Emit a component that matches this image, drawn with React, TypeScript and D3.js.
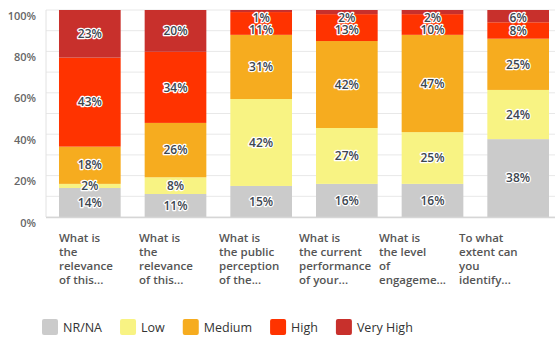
import { useEffect, useRef } from "react";
import * as d3 from "d3";

const categories = ["q1", "q2", "q3", "q4", "q5", "q6"];
const categoryLines = [
  ["What is", "the", "relevance", "of this..."],
  ["What is", "the", "relevance", "of this..."],
  ["What is", "the public", "perception", "of the..."],
  ["What is", "the current", "performance", "of your..."],
  ["What is", "the level", "of", "engageme..."],
  ["To what", "extent can", "you", "identify..."],
];

const seriesNames = ["NR/NA", "Low", "Medium", "High", "Very High"];
const nrNa = [14, 11, 15, 16, 16, 38];
const low = [2, 8, 42, 27, 25, 24];
const medium = [18, 26, 31, 42, 47, 25];
const high = [43, 34, 11, 13, 10, 8];
const veryHigh = [23, 20, 1, 2, 2, 6];
const seriesColors = ["#cbcbcb", "#f8f383", "#f6ac1f", "#ff3300", "#c8302c"];

const yTicks = [0, 0.2, 0.4, 0.6, 0.8, 1];
const gridTicks = d3.range(0, 1.0001, 0.1);

const FONT = "'Open Sans', sans-serif";

export default function App() {
  const svgRef = useRef<SVGSVGElement | null>(null);

  useEffect(() => {
    if (!svgRef.current) return;
    const svg = d3.select(svgRef.current);
    svg.selectAll("*").remove();

    const width = 555;
    const height = 338;
    const plotLeft = 46;
    const plotTop = 10;
    const plotBottom = 217;

    const seriesValues = [nrNa, low, medium, high, veryHigh];
    const rows = categories.map((cat, i) => {
      const row: Record<string, number | string> = { cat };
      seriesNames.forEach((name, s) => (row[name] = seriesValues[s][i]));
      return row;
    });

    const stacked = d3
      .stack<Record<string, number | string>>()
      .keys(seriesNames)
      .value((d, key) => d[key] as number)
      .offset(d3.stackOffsetExpand)(rows);

    const x = d3
      .scaleBand<string>()
      .domain(categories)
      .range([47, 561])
      .paddingInner(0.28)
      .paddingOuter(0.14);
    const y = d3.scaleLinear().domain([0, 1]).range([plotBottom, plotTop]);
    const labelX = d3.scalePoint<string>().domain(categories).range([59, 459]);

    svg.attr("viewBox", `0 0 ${width} ${height}`);

    // gridlines
    svg
      .append("g")
      .selectAll("line")
      .data(gridTicks)
      .enter()
      .append("line")
      .attr("x1", plotLeft)
      .attr("x2", width)
      .attr("y1", (d) => y(d))
      .attr("y2", (d) => y(d))
      .attr("stroke", "#e8e8e8")
      .attr("stroke-width", 1);

    // y axis line
    svg
      .append("line")
      .attr("x1", plotLeft)
      .attr("x2", plotLeft)
      .attr("y1", plotTop)
      .attr("y2", plotBottom)
      .attr("stroke", "#e2e2e2");

    // y tick labels
    svg
      .append("g")
      .selectAll("text")
      .data(yTicks)
      .enter()
      .append("text")
      .attr("x", 36)
      .attr("y", (d) => y(d) + 9.5)
      .attr("text-anchor", "end")
      .attr("fill", "#666")
      .style("font-family", FONT)
      .style("font-size", "11px")
      .style("font-weight", "600")
      .text((d) => `${Math.round(d * 100)}%`);

    // bars
    const layers = svg
      .append("g")
      .selectAll("g")
      .data(stacked)
      .enter()
      .append("g")
      .attr("fill", (_, i) => seriesColors[i]);

    layers
      .selectAll("rect")
      .data((d) => d)
      .enter()
      .append("rect")
      .attr("x", (d) => x(String(d.data.cat)) ?? 0)
      .attr("y", (d) => y(d[1]))
      .attr("width", x.bandwidth())
      .attr("height", (d) => y(d[0]) - y(d[1]));

    // x axis line
    svg
      .append("line")
      .attr("x1", plotLeft)
      .attr("x2", width)
      .attr("y1", plotBottom + 0.5)
      .attr("y2", plotBottom + 0.5)
      .attr("stroke", "#d6d6d6")
      .attr("stroke-width", 1.5);

    // value labels: top-down per bar, nudged so small slices don't collide
    const labelGroup = svg.append("g");
    categories.forEach((cat, ci) => {
      let prev = -Infinity;
      for (let s = stacked.length - 1; s >= 0; s--) {
        const d = stacked[s][ci];
        const v = d.data[stacked[s].key] as number;
        const center = (y(d[0]) + y(d[1])) / 2;
        const cy = Math.max(center, plotTop + 7.5, prev + 12);
        prev = cy;
        labelGroup
          .append("text")
          .attr("x", (x(cat) ?? 0) + x.bandwidth() / 2)
          .attr("y", cy)
          .attr("dy", "0.35em")
          .attr("text-anchor", "middle")
          .attr("fill", "#3d4650")
          .attr("stroke", "#ffffff")
          .attr("stroke-width", 2.5)
          .attr("stroke-linejoin", "round")
          .style("paint-order", "stroke")
          .style("font-family", FONT)
          .style("font-size", "12px")
          .style("font-weight", "600")
          .text(`${v}%`);
      }
    });

    // category labels
    const catGroup = svg.append("g");
    categories.forEach((cat, i) => {
      const t = catGroup
        .append("text")
        .attr("x", labelX(cat) ?? 0)
        .attr("y", 241.5)
        .attr("fill", "#555")
        .style("font-family", FONT)
        .style("font-size", "11.5px")
        .style("font-weight", "600");
      categoryLines[i].forEach((line, j) => {
        t.append("tspan")
          .attr("x", labelX(cat) ?? 0)
          .attr("dy", j === 0 ? 0 : 14.2)
          .text(line);
      });
    });

    // legend
    const legend = svg.append("g");
    let lx = 42;
    seriesNames.forEach((name, i) => {
      legend
        .append("rect")
        .attr("x", lx)
        .attr("y", 319)
        .attr("width", 16)
        .attr("height", 16)
        .attr("rx", 2)
        .attr("fill", seriesColors[i]);
      const text = legend
        .append("text")
        .attr("x", lx + 21)
        .attr("y", 331.5)
        .attr("fill", "#333")
        .style("font-family", FONT)
        .style("font-size", "12.5px")
        .text(name);
      const w = (text.node() as SVGTextElement).getComputedTextLength();
      lx += 21 + w + 18;
    });
  }, []);

  return (
    <div style={{ position: "fixed", left: 0, top: 0 }}>
      <svg ref={svgRef} width={555} height={338} style={{ display: "block", background: "#fff" }} />
    </div>
  );
}
